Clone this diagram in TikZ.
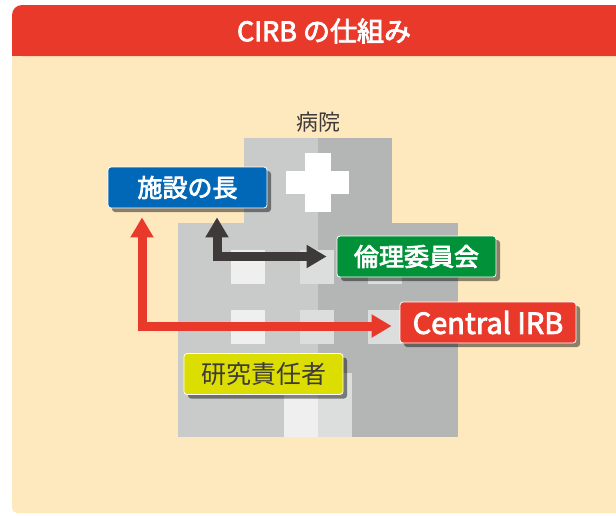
\documentclass[tikz,border=0pt]{standalone}
\usepackage{fontspec}
\setmainfont{Noto Sans CJK JP}
\newfontfamily\labelfont{Noto Sans CJK JP}[FakeBold=3]
\usetikzlibrary{arrows.meta,shadows}
\definecolor{headred}{HTML}{E8392A}
\definecolor{cream}{HTML}{FEE9BE}
\definecolor{wallL}{HTML}{C9CACA}
\definecolor{wallR}{HTML}{B4B5B5}
\definecolor{winL}{HTML}{EFEFEF}
\definecolor{winR}{HTML}{DCDDDD}
\definecolor{chiefblue}{HTML}{0068B7}
\definecolor{irbgreen}{HTML}{009139}
\definecolor{piyellow}{HTML}{DCDD00}
\definecolor{darkink}{HTML}{3E3A39}
\tikzset{
  label box/.style={draw=white, line width=0.8pt, rounded corners=3pt, inner sep=0pt,
    minimum height=41pt, minimum width=159pt, text=white,
    font=\fontsize{25}{25}\labelfont,
    drop shadow={shadow xshift=4pt, shadow yshift=-4pt, opacity=0.45, fill=black}},
  link/.style={line width=9pt, {Triangle[width=22pt,length=20pt]}-{Triangle[width=22pt,length=20pt]}}
}
\begin{document}
\begin{tikzpicture}[x=1pt,y=-1pt]
	\useasboundingbox (0,0) rectangle (616,515);
	\clip (0,0) rectangle (616,515);
	\fill[cream,rounded corners=5pt] (12,30) rectangle (640,513);
	\fill[headred,rounded corners=10pt] (12,5) rectangle (640,56);
	\fill[headred] (12,30) rectangle (640,56);
	\node[text=white,font=\fontsize{27}{27}\labelfont] (title) at (324,31) {CIRB の仕組み};
	\fill[wallL] (244,138) rectangle (318,224);
	\fill[wallR] (318,138) rectangle (392,224);
	\fill[wallL] (178,223) rectangle (318,437);
	\fill[wallR] (318,223) rectangle (458,437);
	\fill[white] (305,153) rectangle (331,212);
	\fill[white] (286,171) rectangle (349,194);
	\foreach \y in {250,310} {
		\fill[winL] (231,\y) rectangle +(34,34);
		\fill[winR] (300,\y) rectangle +(34,34);
		\fill[winR] (368,\y) rectangle +(34,34);
	}
	\fill[winL] (284,373) rectangle (318,437);
	\fill[winR] (318,373) rectangle (352,437);
	\node[text=darkink,font=\fontsize{22}{22}\selectfont] (hospital) at (318,122) {病院};
	\node[label box,fill=chiefblue] (chief) at (187.5,187.5) {施設の長};
	\node[label box,fill=irbgreen] (ethics) at (416.5,256.5) {倫理委員会};
	\node[label box,fill=headred,minimum width=176pt,font=\fontsize{29}{29}\labelfont] (cirb) at (488,322.5) {Central IRB};
	\node[label box,fill=piyellow,text=darkink,font=\fontsize{25}{25}\selectfont] (pi) at (263.5,374) {研究責任者};
	\draw[link,darkink] ([xshift=29.5pt,yshift=-9pt]chief.south) |- ([xshift=-10pt]ethics.west);
	\draw[link,headred] ([xshift=-45.5pt,yshift=-9pt]chief.south) |- ([xshift=-8pt,yshift=-3.5pt]cirb.west);
\end{tikzpicture}
\end{document}
